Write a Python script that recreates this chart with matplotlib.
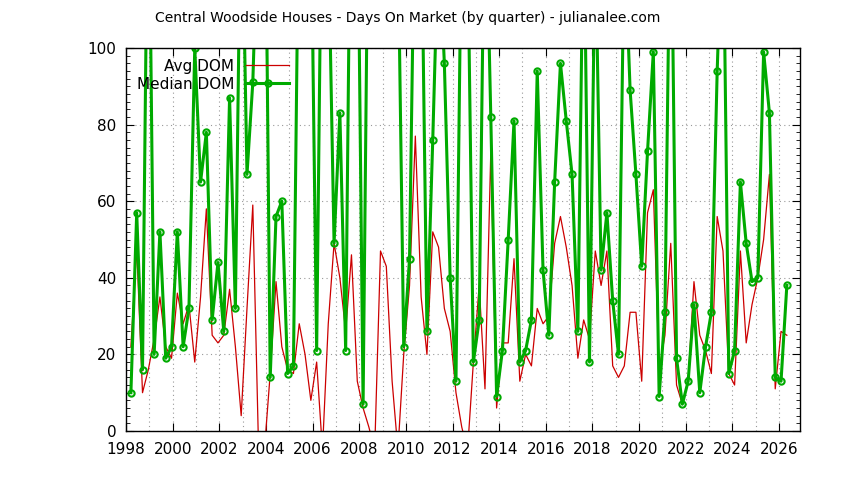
import numpy as np
import matplotlib
matplotlib.use("Agg")
import matplotlib.pyplot as plt
from matplotlib.ticker import MultipleLocator

median_dom = [10,57,16,160,20,52,19,22,52,22,32,100,65,78,29,44,26,87,32,150,67,91,140,170,14,56,60,15,17,
              150,180,140,21,160,130,49,83,21,170,150,7,160,140,180,150,170,130,22,45,150,140,26,76,130,96,40,13,
              140,130,18,29,150,82,9,21,50,81,18,21,29,94,42,25,65,96,81,67,26,140,18,130,42,57,34,20,130,
              89,67,43,73,99,9,31,150,19,7,13,33,10,22,31,94,140,15,21,65,49,39,40,99,83,14,13,38]
avg_dom = [22,48,10,16,24,35,22,19,36,28,33,18,35,58,25,23,25,37,22,4,32,59,-5,-5,15,39,22,16,15,
           28,20,8,18,-5,28,49,40,26,46,13,6,1,-5,47,43,13,-5,20,38,77,35,20,52,48,32,26,10,
           1,-5,18,38,11,73,6,23,23,45,13,20,17,32,28,30,49,56,48,38,19,29,24,47,38,47,17,14,17,
           31,31,13,57,63,16,25,49,12,7,13,39,25,21,15,56,47,15,12,47,23,33,40,50,67,11,26,25]
start_year = 1998.21
step = 0.2489
x = start_year + step * np.arange(len(median_dom))

fig = plt.figure(figsize=(8.44, 4.8), dpi=100)
ax = fig.add_axes([126/844, 1-431/480, (800-126)/844, (431-48)/480])
ax.plot(x, avg_dom, color='#cc0000', lw=0.9, label='Avg DOM')
ax.plot(x, median_dom, color='#00aa00', lw=2.2, marker='o', ms=4.5, mfc='none', mew=1.5, label='Median DOM')
ax.set_xlim(1998, 2026.9)
ax.set_ylim(0, 100)
ax.xaxis.set_major_locator(MultipleLocator(2))
ax.xaxis.set_minor_locator(MultipleLocator(1))
ax.yaxis.set_major_locator(MultipleLocator(20))
ax.yaxis.set_minor_locator(MultipleLocator(2))
ax.grid(True, which='both', axis='x', ls=(0, (1, 3)), color='#999999', lw=0.8)
ax.grid(True, which='major', axis='y', ls=(0, (1, 3)), color='#999999', lw=0.8)
ax.tick_params(which='both', direction='in', top=True, right=True, labelsize=11)
ax.tick_params(which='major', length=6)
ax.tick_params(which='minor', length=3)
ax.tick_params(axis='x', which='minor', top=False, bottom=False)
ax.tick_params(axis='y', pad=7)
ax.tick_params(axis='x', pad=8)
for s in ax.spines.values():
    s.set_linewidth(1)
ax.legend(loc='upper left', bbox_to_anchor=(0.0, 1.0), frameon=False, markerfirst=False,
          fontsize=11, handlelength=2.8, borderaxespad=0.3, labelspacing=0.2)
fig.text(408/844, 1-18/480, 'Central Woodside Houses - Days On Market (by quarter) - julianalee.com',
         ha='center', va='center', fontsize=10)
fig.savefig('out.png')
